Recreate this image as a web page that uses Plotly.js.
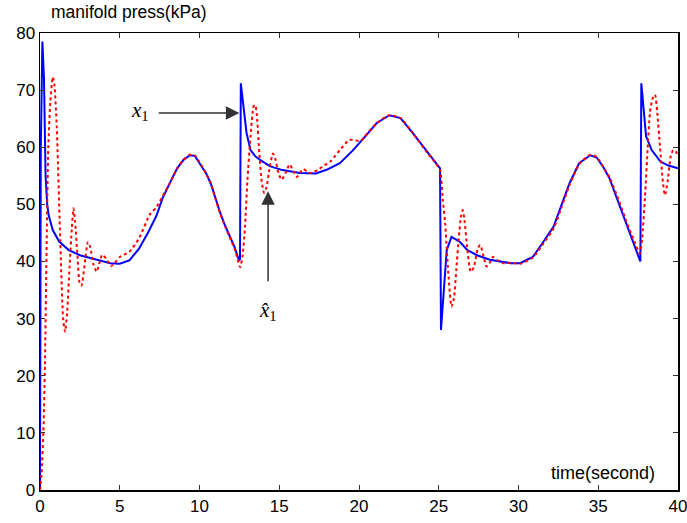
<!DOCTYPE html>
<html>
<head>
<meta charset="utf-8">
<script src="https://cdn.plot.ly/plotly-3.0.1.min.js"></script>
<style>html,body{margin:0;padding:0;background:#fff;}#chart{width:687px;height:523px;}</style>
</head>
<body>
<div id="chart"></div>
<script>
// Actual state x1 (blue, solid)
const tBlue = [0, 0.05, 0.15, 0.25, 0.35, 0.45, 0.55, 0.8, 1.2, 1.8, 2.5, 3.5, 4.4, 5.0, 5.6, 6.2, 6.8, 7.3, 7.7, 8.1, 8.6, 9.0, 9.4, 9.7, 10.0, 10.4, 10.7, 11.0, 11.3, 11.6, 11.9, 12.2, 12.48, 12.54, 12.59, 12.7, 12.8, 12.95, 13.2, 13.5, 13.8, 14.4, 15.2, 16.3, 17.3, 18.0, 18.8, 19.6, 20.3, 21.1, 21.9, 22.6, 23.4, 24.2, 24.7, 25.08, 25.14, 25.28, 25.5, 25.8, 26.3, 26.8, 27.4, 28.2, 29.5, 30.1, 30.9, 31.5, 32.2, 32.7, 33.2, 33.8, 34.5, 34.9, 35.3, 35.7, 36.3, 36.9, 37.3, 37.64, 37.7, 37.83, 38.0, 38.35, 38.9, 39.4, 40];
const xBlue = [0, 60, 78.5, 72, 55, 50, 48, 45.5, 43.5, 42, 41.1, 40.3, 39.7, 39.6, 40.2, 42.2, 45.2, 48, 51.2, 53.5, 56.3, 57.8, 58.6, 58.5, 57.3, 55.5, 53.7, 51, 48.5, 46.3, 44.4, 42.5, 40.2, 40.4, 71.2, 68.5, 66, 62.5, 59.5, 58.4, 57.8, 56.7, 56, 55.5, 55.4, 56.1, 57.2, 59.4, 61.6, 64.2, 65.6, 65.1, 62.4, 59.5, 57.8, 56.3, 28, 33.3, 42, 44.3, 43.5, 42, 41.1, 40.3, 39.7, 39.7, 40.8, 43.2, 46.1, 49.9, 53.7, 57.2, 58.6, 58.2, 56.6, 54.6, 50.2, 45.5, 42.5, 40, 71.2, 66.5, 61.9, 59.5, 57.5, 56.8, 56.3];

// Estimated state x1-hat (red, dotted)
const tRed = [0, 0.1, 0.21, 0.31, 0.42, 0.52, 0.65, 0.8, 0.9, 1.05, 1.25, 1.45, 1.57, 1.7, 1.85, 2.0, 2.1, 2.2, 2.35, 2.5, 2.6, 2.8, 3.0, 3.15, 3.35, 3.55, 3.75, 3.9, 4.15, 4.45, 4.7, 5.0, 5.6, 6.2, 6.9, 7.3, 7.7, 8.1, 8.6, 9.0, 9.4, 9.7, 10.0, 10.4, 10.7, 11.0, 11.3, 11.6, 11.9, 12.2, 12.4, 12.55, 12.7, 12.85, 13.0, 13.2, 13.4, 13.5, 13.6, 13.75, 13.9, 14.05, 14.2, 14.4, 14.6, 14.75, 14.95, 15.15, 15.4, 15.65, 15.85, 16.1, 16.5, 16.8, 17.0, 17.4, 17.7, 18.2, 18.8, 19.4, 19.8, 20.1, 20.3, 21.1, 21.9, 22.6, 23.4, 24.2, 24.7, 25.08, 25.25, 25.4, 25.6, 25.8, 25.95, 26.1, 26.25, 26.4, 26.5, 26.6, 26.8, 27.0, 27.2, 27.45, 27.6, 27.8, 28.0, 28.2, 28.4, 28.7, 29.05, 29.5, 30.1, 30.9, 31.5, 32.2, 32.7, 33.2, 33.8, 34.5, 34.9, 35.3, 35.7, 36.3, 36.9, 37.3, 37.6, 37.75, 37.93, 38.1, 38.24, 38.4, 38.56, 38.7, 38.87, 39.05, 39.18, 39.35, 39.55, 39.7, 39.85, 40];
const xRed = [0, 3, 10, 22, 44, 60, 68, 72.3, 71, 63.6, 45.5, 30, 27.7, 31, 39, 46, 49.3, 47, 41, 36, 35.8, 39.5, 43.4, 42.5, 39.5, 38.2, 40, 41.2, 40.5, 39.2, 39.8, 40.8, 41.7, 44, 48.3, 49.5, 51.5, 53.5, 56.3, 57.8, 58.7, 58.6, 57.4, 55.5, 53.7, 51, 48.4, 46.2, 44.2, 42.2, 40.3, 39, 41, 46, 54, 62, 67.2, 67.4, 65.5, 59, 54, 52, 53, 56.5, 58.9, 58, 55.5, 54.3, 55.5, 57, 56, 54.8, 56.2, 55.6, 55.5, 56, 56.6, 57.5, 59.5, 61.3, 61.2, 61.1, 61.7, 64.2, 65.6, 65.1, 62.4, 59.3, 57.6, 56, 51, 46.7, 37.9, 32.1, 33.5, 38.5, 44, 48, 49, 47.5, 42, 38.2, 39, 42.3, 42.9, 41, 39.1, 39.8, 40.8, 40.2, 39.7, 39.8, 39.6, 40.7, 42.9, 45.8, 49.5, 53.4, 57, 58.7, 58.3, 56.6, 54.8, 50.6, 46, 43.3, 41.4, 44, 51.3, 60, 66, 68.5, 69.2, 66, 60.1, 54, 51.6, 54, 58.5, 59.5, 59.3, 58.4];

const xTicks = [0, 5, 10, 15, 20, 25, 30, 35, 40];
const yTicks = [0, 10, 20, 30, 40, 50, 60, 70, 80];

const sans = "Liberation Sans, Arial, sans-serif";
const serif = "Liberation Serif, Times New Roman, serif";

const traces = [
  {x: tBlue, y: xBlue, type: 'scatter', mode: 'lines', line: {color: '#0000ff', width: 2}, hoverinfo: 'skip'},
  {x: tRed, y: xRed, type: 'scatter', mode: 'lines', line: {color: '#ff0000', width: 2, dash: 'dot', shape: 'spline', smoothing: 0.6}, hoverinfo: 'skip'}
];

const axisCommon = {
  showgrid: false, zeroline: false, showline: true, linecolor: '#000', linewidth: 1.5,
  mirror: 'ticks', ticks: 'inside', ticklen: 5, tickcolor: '#333', tickwidth: 1,
  ticklabeloverflow: 'allow',
  tickfont: {family: sans, size: 17, color: '#000'}
};

const layout = {
  width: 687, height: 523,
  margin: {l: 40, r: 9, t: 33, b: 33},
  paper_bgcolor: '#fff', plot_bgcolor: '#fff',
  showlegend: false,
  xaxis: Object.assign({}, axisCommon, {range: [0, 40], tickvals: xTicks, ticktext: xTicks.map(String)}),
  yaxis: Object.assign({}, axisCommon, {range: [0, 80], tickvals: yTicks, ticktext: yTicks.map(String)}),
  annotations: [
    {xref: 'paper', yref: 'paper', x: 0.014, y: 1.0, yshift: 21, xanchor: 'left', yanchor: 'middle',
     text: 'manifold press(kPa)', showarrow: false, font: {family: sans, size: 17.5, color: '#000'}},
    {xref: 'paper', yref: 'paper', x: 0.967, y: 0, yshift: 17, xanchor: 'right', yanchor: 'middle',
     text: 'time(second)', showarrow: false, font: {family: sans, size: 18, color: '#000'}},
    {x: 12.5, y: 66, ax: 7.35, ay: 66, axref: 'x', ayref: 'y', text: '', showarrow: true,
     arrowhead: 2, arrowsize: 1.8, arrowwidth: 1.5, arrowcolor: '#333'},
    {x: 14.3, y: 52.3, ax: 14.3, ay: 36.3, axref: 'x', ayref: 'y', text: '', showarrow: true,
     arrowhead: 2, arrowsize: 1.8, arrowwidth: 1.5, arrowcolor: '#333'},
    {x: 6.3, y: 66.3, text: '<i>x</i><sub>1</sub>', showarrow: false, xanchor: 'center', yanchor: 'middle',
     font: {family: serif, size: 21, color: '#000'}},
    {x: 14.3, y: 31.4, text: '<i>x\u0302</i><sub>1</sub>', showarrow: false, xanchor: 'center', yanchor: 'middle',
     font: {family: serif, size: 21, color: '#000'}}
  ]
};

Plotly.newPlot('chart', traces, layout, {staticPlot: true, displayModeBar: false});
</script>
</body>
</html>
